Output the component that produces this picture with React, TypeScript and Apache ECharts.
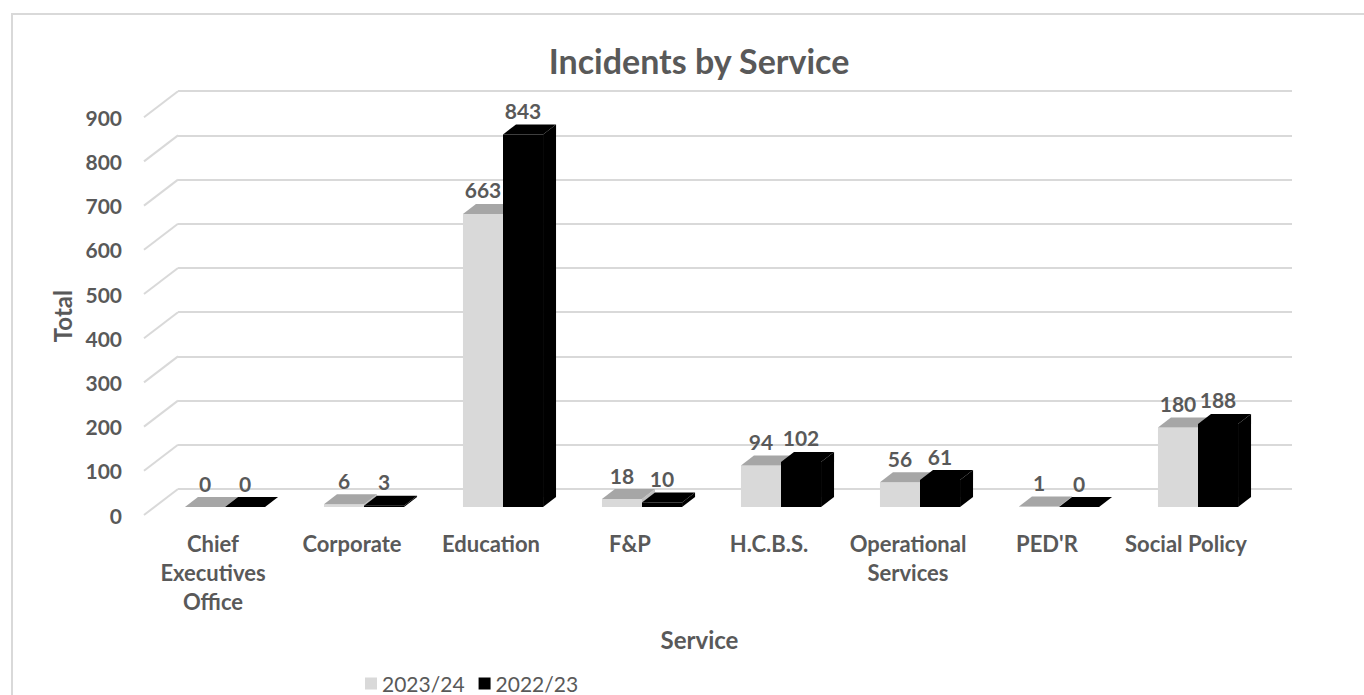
import React, { useEffect, useRef } from "react";
import * as echarts from "echarts";

const categories = [
  "Chief Executives Office",
  "Corporate",
  "Education",
  "F&P",
  "H.C.B.S.",
  "Operational Services",
  "PED'R",
  "Social Policy",
];
const values2324 = [0, 6, 663, 18, 94, 56, 1, 180];
const values2223 = [0, 3, 843, 10, 102, 61, 0, 188];
const seriesNames = ["2023/24", "2022/23"];
const yTicks = [0, 100, 200, 300, 400, 500, 600, 700, 800, 900];
const labelLines: Record<string, string> = {
  "Chief Executives Office": "Chief\nExecutives\nOffice",
  "Operational Services": "Operational\nServices",
};

const FONT = "Lato";
const TEXT = "#595959";
const GRID = "#d9d9d9";
const DX = 13;
const DY = 10;

const palettes = [
  { front: "#d9d9d9", top: "#a6a6a6", side: "#bfbfbf" },
  { front: "#000000", top: "#000000", side: "#000000" },
];

function barRenderer(sIdx: number) {
  return (params: any, api: any) => {
    const idx = api.value(0);
    const v = api.value(1);
    const top = api.coord([idx, v]);
    const base = api.coord([idx, 0]);
    const band = api.size([1, 0])[0];
    const w = band * 0.288;
    const x0 = sIdx === 0 ? top[0] - w : top[0];
    const x1 = x0 + w;
    const ty = top[1];
    const by = base[1];
    const p = palettes[sIdx];
    return {
      type: "group",
      children: [
        {
          type: "rect",
          shape: { x: x0, y: ty, width: w, height: by - ty },
          style: { fill: p.front },
        },
        {
          type: "polygon",
          shape: {
            points: [
              [x1, ty],
              [x1 + DX, ty - DY],
              [x1 + DX, by - DY],
              [x1, by],
            ],
          },
          style: { fill: p.side },
        },
        {
          type: "polygon",
          shape: {
            points: [
              [x0, ty],
              [x0 + DX, ty - DY],
              [x1 + DX, ty - DY],
              [x1, ty],
            ],
          },
          style: { fill: p.top },
        },
        {
          type: "text",
          x: x0 + w / 2,
          y: ty - 24,
          style: {
            text: String(v),
            fill: TEXT,
            font: `bold 21px ${FONT}`,
            textAlign: "center",
            textVerticalAlign: "middle",
          },
        },
      ],
    };
  };
}

export default function App() {
  const ref = useRef<HTMLDivElement>(null);
  useEffect(() => {
    if (!ref.current) return;
    const chart = echarts.init(ref.current, null, { renderer: "svg" });
    const axisText = {
      fontFamily: FONT,
      fontSize: 21,
      fontWeight: "bold" as const,
      color: TEXT,
    };
    chart.setOption({
      animation: false,
      backgroundColor: "#ffffff",
      title: {
        text: "Incidents by Service",
        left: 694,
        top: 38,
        textAlign: "center",
        textStyle: { fontFamily: FONT, fontSize: 34, fontWeight: "bold", color: TEXT },
      },
      legend: {
        left: 365,
        top: 673,
        padding: 0,
        itemWidth: 12,
        itemHeight: 12,
        itemGap: 14,
        icon: "rect",
        textStyle: { fontFamily: FONT, fontSize: 21, lineHeight: 20, color: TEXT },
        data: [
          { name: seriesNames[0], itemStyle: { color: palettes[0].front } },
          { name: seriesNames[1], itemStyle: { color: palettes[1].front } },
        ],
      },
      graphic: [
        {
          type: "rect",
          shape: { x: 12, y: 14, width: 1400, height: 720 },
          style: { fill: "none", stroke: GRID, lineWidth: 2 },
          silent: true,
          z: -10,
        },
      ],
      grid: [
        { left: 155.5, right: 96.5, top: 109.2, bottom: 188 },
        { left: 178, right: 72, top: 91.2, bottom: 206 },
        { left: 144, right: 106, top: 117.2, bottom: 180 },
      ],
      xAxis: [
        {
          gridIndex: 0,
          type: "category",
          data: categories,
          axisLine: { show: false },
          axisTick: { show: false },
          axisLabel: {
            ...axisText,
            fontSize: 22,
            margin: 22,
            lineHeight: 29,
            padding: [0, 24, 0, 0],
            interval: 0,
            formatter: (s: string) => labelLines[s] || s,
          },
          name: "Service",
          nameLocation: "middle",
          nameGap: 120,
          nameTextStyle: { ...axisText, fontSize: 24, padding: [0, 24, 0, 0] },
        },
        { gridIndex: 1, type: "value", min: 0, max: 1, show: false },
        { gridIndex: 2, type: "value", min: 0, max: 1, show: false },
      ],
      yAxis: [
        { gridIndex: 0, type: "value", min: 0, max: 900, interval: 100, show: false },
        {
          gridIndex: 1,
          type: "value",
          min: 0,
          max: 900,
          interval: 100,
          axisLine: { show: false },
          axisTick: { show: false },
          axisLabel: { show: false },
          splitLine: { show: true, lineStyle: { color: GRID, width: 2 } },
        },
        {
          gridIndex: 2,
          type: "value",
          min: 0,
          max: 900,
          interval: 100,
          axisLine: { show: false },
          axisTick: { show: false },
          splitLine: { show: false },
          axisLabel: { ...axisText, margin: 22 },
          name: "Total",
          nameLocation: "middle",
          nameGap: 61,
          nameTextStyle: { ...axisText, fontSize: 24 },
        },
      ],
      series: [
        {
          type: "custom",
          name: "wall",
          xAxisIndex: 1,
          yAxisIndex: 1,
          silent: true,
          clip: false,
          data: yTicks.map((v) => [0, v]),
          renderItem: (params: any, api: any) => {
            const p = api.coord([0, api.value(1)]);
            return {
              type: "line",
              shape: { x1: p[0] - 34, y1: p[1] + 26, x2: p[0], y2: p[1] },
              style: { stroke: GRID, lineWidth: 2 },
            };
          },
        },
        {
          type: "custom",
          name: seriesNames[0],
          xAxisIndex: 0,
          yAxisIndex: 0,
          clip: false,
          itemStyle: { color: palettes[0].front },
          data: values2324.map((v, i) => [i, v]),
          encode: { x: 0, y: 1 },
          renderItem: barRenderer(0),
        },
        {
          type: "custom",
          name: seriesNames[1],
          xAxisIndex: 0,
          yAxisIndex: 0,
          clip: false,
          itemStyle: { color: palettes[1].front },
          data: values2223.map((v, i) => [i, v]),
          encode: { x: 0, y: 1 },
          renderItem: barRenderer(1),
        },
      ],
    });
    return () => chart.dispose();
  }, []);
  return (
    <div
      ref={ref}
      style={{ position: "absolute", left: 0, top: 0, width: 1364, height: 695 }}
    />
  );
}
